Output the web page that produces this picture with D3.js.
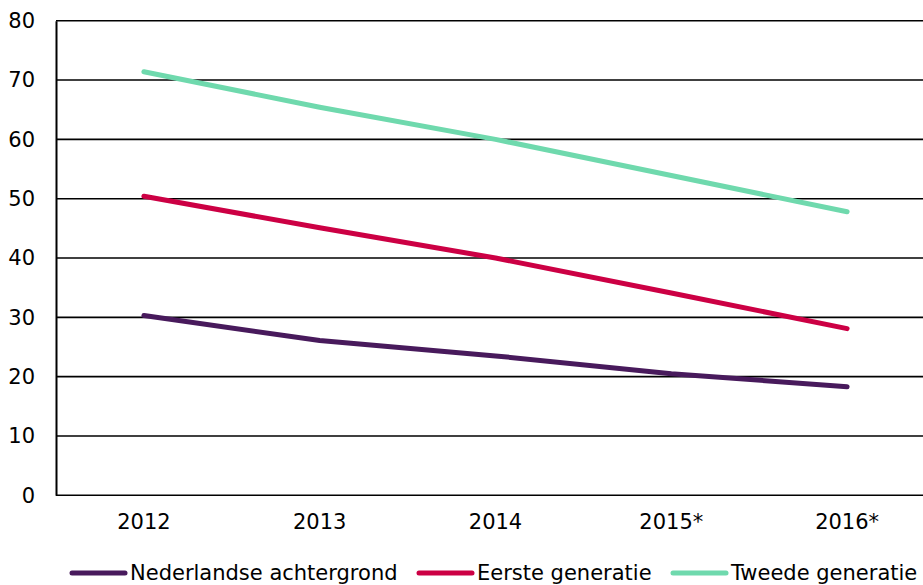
<!DOCTYPE html>
<html>
<head>
<meta charset="utf-8">
<script src="https://cdn.jsdelivr.net/npm/d3@7"></script>
<style>
    body { margin: 0; background: #fff; }
    svg text { font-family: "DejaVu Sans", Verdana, sans-serif; fill: #000; }
</style>
</head>
<body>
<div id="chart"></div>
<script>
(function() {
    "use strict";

    var years = ["2012", "2013", "2014", "2015*", "2016*"];
    var nederlands = [30.3, 26.1, 23.5, 20.5, 18.3];
    var eerste = [50.4, 45.1, 40.0, 34.1, 28.1];
    var tweede = [71.4, 65.4, 60.0, 53.9, 47.8];
    var yTicks = [0, 10, 20, 30, 40, 50, 60, 70, 80];

    var series = [
        {name: "Nederlandse achtergrond", values: nederlands, color: "#481a5c"},
        {name: "Eerste generatie", values: eerste, color: "#cc0044"},
        {name: "Tweede generatie", values: tweede, color: "#6fd9ad"}
    ];

    var width = 923, height = 585;
    var margin = {left: 56, top: 20.7, bottom: 89.7};
    var fontSize = "21px";

    var svg = d3.select("#chart").append("svg")
        .attr("width", width)
        .attr("height", height);

    var x = d3.scaleBand().domain(years).range([margin.left, 935]);
    var y = d3.scaleLinear().domain([0, 80]).range([height - margin.bottom, margin.top]);

    // gridlines
    svg.append("g")
        .selectAll("line")
        .data(yTicks)
        .enter().append("line")
        .attr("x1", margin.left)
        .attr("x2", width)
        .attr("y1", function(d) { return y(d); })
        .attr("y2", function(d) { return y(d); })
        .attr("stroke", "#000")
        .attr("stroke-width", 1.6);

    // y axis
    var yAxis = svg.append("g")
        .attr("transform", "translate(" + margin.left + ",0)")
        .call(d3.axisLeft(y).tickValues(yTicks).tickSize(0).tickPadding(21));
    yAxis.select(".domain").attr("stroke", "#000").attr("stroke-width", 2);
    yAxis.selectAll("text").style("font-size", fontSize);

    // x axis labels
    var xAxis = svg.append("g")
        .attr("transform", "translate(0," + y(0) + ")")
        .call(d3.axisBottom(x).tickSize(0).tickPadding(19));
    xAxis.select(".domain").remove();
    xAxis.selectAll("text").style("font-size", fontSize);

    // lines
    var line = d3.line()
        .x(function(d, i) { return x(years[i]) + x.bandwidth() / 2; })
        .y(function(d) { return y(d); });

    svg.append("g")
        .selectAll("path")
        .data(series)
        .enter().append("path")
        .attr("d", function(s) { return line(s.values); })
        .attr("fill", "none")
        .attr("stroke", function(s) { return s.color; })
        .attr("stroke-width", 5)
        .attr("stroke-linecap", "round")
        .attr("stroke-linejoin", "round");

    // legend
    var legendX = [72, 419, 673];
    var legend = svg.append("g")
        .selectAll("g")
        .data(series)
        .enter().append("g")
        .attr("transform", function(s, i) { return "translate(" + legendX[i] + ",573)"; });
    legend.append("line")
        .attr("x1", 0)
        .attr("x2", 53)
        .attr("stroke", function(s) { return s.color; })
        .attr("stroke-width", 5)
        .attr("stroke-linecap", "round");
    legend.append("text")
        .attr("x", 58)
        .attr("dy", "0.35em")
        .style("font-size", fontSize)
        .text(function(s) { return s.name; });
})();
</script>
</body>
</html>
